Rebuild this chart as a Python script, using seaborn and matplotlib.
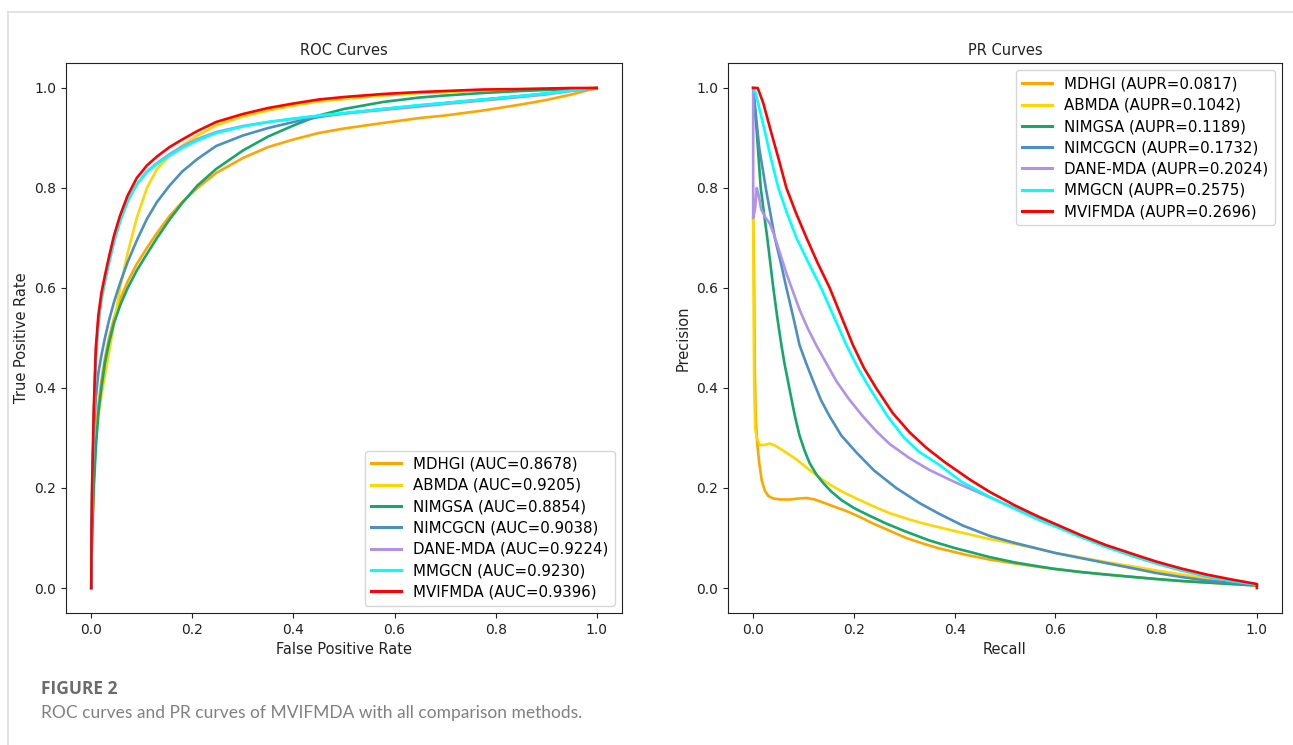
import matplotlib
matplotlib.use("Agg")
import matplotlib.pyplot as plt
import seaborn as sns
import pandas as pd
from matplotlib.lines import Line2D

# methods, scores and colours
methods = ["MDHGI", "ABMDA", "NIMGSA", "NIMCGCN", "DANE-MDA", "MMGCN", "MVIFMDA"]
auc = [0.8678, 0.9205, 0.8854, 0.9038, 0.9224, 0.9230, 0.9396]
aupr = [0.0817, 0.1042, 0.1189, 0.1732, 0.2024, 0.2575, 0.2696]
colors = ["#FFA500", "#FFD700", "#14A86B", "#4A90C2", "#B093E8", "#00FFFF", "#FF0000"]

# ROC curves, shared FPR grid
roc_fpr = [0, .0005, .002, .005, .009, .014, .02, .027, .035, .045, .057, .072, .09, .11,
           .13, .155, .18, .21, .247, .3, .35, .4, .45, .5, .577, .65, .7, .775, .85, .9,
           .95, 1.0]
roc_tpr = {
    "MDHGI":    [0, .06, .12, .215, .30, .365, .415, .46, .50, .54, .577, .613, .648, .68,
                 .71, .744, .772, .80, .83, .86, .882, .897, .91, .919, .93, .94, .945, .955,
                 .967, .976, .987, 1.0],
    "ABMDA":    [0, .06, .13, .22, .30, .345, .385, .425, .47, .53, .60, .67, .74, .80,
                 .838, .865, .885, .905, .925, .943, .955, .965, .973, .978, .985, .99, .992,
                 .995, .997, .998, .999, 1.0],
    "NIMGSA":   [0, .05, .11, .20, .28, .35, .40, .45, .49, .53, .565, .60, .635, .668,
                 .70, .737, .77, .805, .838, .875, .903, .925, .945, .958, .972, .981, .985,
                 .99, .994, .996, .998, 1.0],
    "NIMCGCN":  [0, .12, .22, .31, .38, .43, .465, .50, .535, .572, .61, .652, .695, .738,
                 .772, .805, .833, .858, .884, .905, .92, .932, .942, .949, .958, .965, .97,
                 .977, .984, .989, .995, 1.0],
    "DANE-MDA": [0, .10, .20, .34, .46, .528, .575, .612, .65, .692, .733, .773, .807, .833,
                 .85, .868, .883, .898, .912, .924, .932, .938, .944, .949, .956, .963, .968,
                 .975, .982, .987, .994, 1.0],
    "MMGCN":    [0, .11, .21, .35, .47, .535, .58, .615, .652, .695, .735, .775, .808, .832,
                 .848, .865, .88, .895, .91, .923, .932, .939, .945, .95, .958, .966, .97,
                 .977, .984, .989, .995, 1.0],
    "MVIFMDA":  [0, .12, .22, .36, .48, .545, .59, .625, .662, .705, .745, .785, .82, .845,
                 .863, .882, .897, .914, .932, .948, .96, .969, .977, .982, .988, .992, .994,
                 .997, .998, .999, 1.0, 1.0],
}

# PR curves (recall, precision)
pr_recall = {
    "MDHGI":    [0, .002, .003, .005, .008, .012, .017, .023, .03, .04, .055, .073, .09, .106,
                 .122, .139, .16, .185, .21, .238, .27, .304, .34, .37, .42, .469, .52, .568,
                 .6, .65, .7, .766, .8, .85, .9, .95, 1.0],
    "ABMDA":    [0, .001, .002, .004, .007, .013, .023, .033, .043, .053, .07, .086, .1, .112,
                 .13, .152, .178, .205, .235, .27, .31, .35, .4, .469, .52, .568, .6, .65, .7,
                 .766, .8, .85, .9, .95, 1.0],
    "NIMGSA":   [0, .003, .007, .015, .022, .028, .034, .04, .048, .056, .062, .069, .076,
                 .083, .092, .102, .112, .125, .139, .155, .175, .2, .23, .264, .3, .35, .4,
                 .469, .52, .568, .6, .65, .7, .766, .8, .85, .9, .95, 1.0],
    "NIMCGCN":  [0, .005, .012, .025, .034, .043, .055, .066, .08, .092, .105, .119, .135,
                 .152, .175, .205, .24, .284, .33, .37, .416, .47, .52, .568, .6, .65, .7,
                 .766, .8, .85, .9, .95, 1.0],
    "DANE-MDA": [0, 0, .004, .007, .01, .016, .025, .033, .042, .05, .066, .08, .092, .108,
                 .125, .145, .165, .19, .218, .245, .271, .31, .35, .4, .45, .5, .55, .6,
                 .65, .7, .75, .8, .85, .9, .95, 1.0],
    "MMGCN":    [0, .005, .012, .023, .035, .05, .067, .086, .11, .135, .16, .185, .208,
                 .231, .267, .3, .33, .37, .413, .47, .52, .568, .6, .65, .7, .766, .8, .85,
                 .9, .95, 1.0],
    "MVIFMDA":  [0, .009, .02, .035, .05, .066, .085, .106, .128, .152, .175, .198, .22,
                 .244, .277, .31, .343, .38, .43, .47, .52, .568, .6, .65, .7, .766, .8, .85,
                 .9, .95, 1.0, 1.0],
}
pr_precision = {
    "MDHGI":    [.74, .60, .45, .343, .29, .25, .215, .195, .184, .179, .177, .177, .179, .18,
                 .177, .171, .163, .154, .143, .129, .115, .10, .088, .079, .067, .057, .049,
                 .042, .038, .032, .027, .021, .018, .014, .011, .008, .005],
    "ABMDA":    [.74, .55, .40, .32, .30, .286, .286, .289, .285, .279, .268, .257, .246, .236,
                 .222, .207, .192, .179, .165, .15, .137, .126, .114, .098, .088, .078, .07,
                 .061, .052, .041, .035, .027, .019, .012, .006],
    "NIMGSA":   [1.0, .96, .914, .80, .745, .70, .65, .60, .54, .486, .45, .414, .378, .343,
                 .305, .275, .25, .228, .21, .193, .176, .16, .145, .129, .114, .095, .08,
                 .062, .051, .043, .038, .032, .027, .021, .018, .014, .011, .008, .005],
    "NIMCGCN":  [1.0, .95, .88, .80, .75, .70, .65, .60, .54, .486, .45, .414, .375, .343,
                 .305, .271, .235, .20, .17, .148, .125, .104, .09, .078, .07, .06, .05, .037,
                 .03, .022, .015, .01, .006],
    "DANE-MDA": [1.0, .74, .76, .80, .79, .757, .74, .729, .705, .68, .629, .59, .557, .52,
                 .486, .45, .414, .378, .343, .313, .288, .26, .236, .212, .19, .168, .147,
                 .126, .104, .084, .065, .049, .035, .023, .014, .007],
    "MMGCN":    [1.0, .99, .96, .914, .86, .80, .75, .70, .65, .60, .543, .486, .44,
                 .40, .343, .30, .272, .246, .213, .182, .158, .136, .123, .102, .082, .06,
                 .05, .036, .024, .014, .007],
    "MVIFMDA":  [1.0, 1.0, .97, .914, .86, .80, .75, .70, .65, .60, .543, .486, .44,
                 .40, .35, .312, .281, .252, .217, .192, .165, .142, .128, .106, .086, .064,
                 .053, .039, .027, .017, .008, 0.0],
}

roc_labels = [f"{m} (AUC={a:.4f})" for m, a in zip(methods, auc)]
pr_labels = [f"{m} (AUPR={a:.4f})" for m, a in zip(methods, aupr)]

roc_rows = []
for m, lab in zip(methods, roc_labels):
    for f, t in zip(roc_fpr, roc_tpr[m]):
        roc_rows.append({"fpr": f, "tpr": t, "label": lab})
roc_df = pd.DataFrame(roc_rows)

pr_rows = []
for m, lab in zip(methods, pr_labels):
    for r, p in zip(pr_recall[m], pr_precision[m]):
        pr_rows.append({"recall": r, "precision": p, "label": lab})
pr_df = pd.DataFrame(pr_rows)

plt.rcParams["font.family"] = ["DejaVu Sans"]
plt.rcParams["axes.edgecolor"] = "#222222"
plt.rcParams["xtick.color"] = "#222222"
plt.rcParams["ytick.color"] = "#222222"

fig = plt.figure(figsize=(12.93, 7.45), dpi=100)
ax1 = fig.add_axes([66 / 1293, 1 - 613 / 745, 556 / 1293, 550 / 745])
ax2 = fig.add_axes([728 / 1293, 1 - 613 / 745, 554 / 1293, 550 / 745])

sns.lineplot(data=roc_df, x="fpr", y="tpr", hue="label", hue_order=roc_labels,
             palette=dict(zip(roc_labels, colors)), sort=False, estimator=None,
             linewidth=1.9, legend=False, ax=ax1)
sns.lineplot(data=pr_df, x="recall", y="precision", hue="label", hue_order=pr_labels,
             palette=dict(zip(pr_labels, colors)), sort=False, estimator=None,
             linewidth=1.9, legend=False, ax=ax2)

for ax, title, xl, yl in [(ax1, "ROC Curves", "False Positive Rate", "True Positive Rate"),
                          (ax2, "PR Curves", "Recall", "Precision")]:
    ax.set_xlim(-0.05, 1.05)
    ax.set_ylim(-0.05, 1.05)
    ax.set_xticks([0, 0.2, 0.4, 0.6, 0.8, 1.0])
    ax.set_yticks([0, 0.2, 0.4, 0.6, 0.8, 1.0])
    ax.set_title(title, fontsize=10.5, color="#222222", pad=6)
    ax.set_xlabel(xl, fontsize=10.5, color="#222222")
    ax.set_ylabel(yl, fontsize=10.5, color="#222222")
    ax.tick_params(labelsize=10)

handles1 = [Line2D([], [], color=c, lw=2.2) for c in colors]
ax1.legend(handles1, roc_labels, loc="lower right", fontsize=10.8, edgecolor="#cccccc",
           labelspacing=0.42)
handles2 = [Line2D([], [], color=c, lw=2.2) for c in colors]
ax2.legend(handles2, pr_labels, loc="upper right", fontsize=10.8, edgecolor="#cccccc",
           labelspacing=0.42)

# page frame and caption
fig.add_artist(Line2D([8 / 1293, 1.0], [1 - 12 / 745, 1 - 12 / 745], color="#dddddd", lw=1.2))
fig.add_artist(Line2D([8 / 1293, 8 / 1293], [0, 1 - 12 / 745], color="#dddddd", lw=1.2))
fig.text(41 / 1293, 1 - 689 / 745, "FIGURE 2", fontsize=12.5, fontweight="bold",
         color="#6b6b6b", family=["Open Sans", "DejaVu Sans"], va="center")
fig.text(41 / 1293, 1 - 713 / 745,
         "ROC curves and PR curves of MVIFMDA with all comparison methods.",
         fontsize=12.5, color="#808080", family=["Lato", "DejaVu Sans"], va="center")

fig.savefig("out.png", dpi=100)
